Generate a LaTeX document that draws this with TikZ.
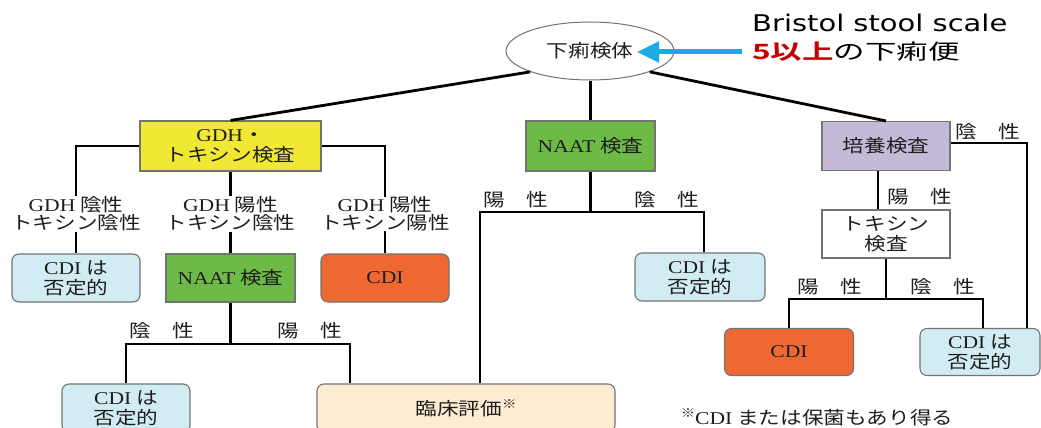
\documentclass[tikz,border=0pt]{standalone}
\usepackage{fontspec}
\setmainfont{Liberation Serif}[FakeStretch=1.2]
\newfontfamily\jpfont{Noto Sans CJK JP}[FakeStretch=1.2]
\newfontfamily\jpwide{Noto Sans CJK JP}[FakeStretch=1.5,BoldFont={Noto Sans CJK JP Bold}]
\newfontfamily\bristolfont{DejaVu Sans}[FakeStretch=1.26]
\newcommand\latn[1]{{\rmfamily #1}}
\newcommand\kome{\raisebox{0.4em}{\fontsize{12}{12}\selectfont ※}}
\usetikzlibrary{arrows.meta,shapes.geometric,calc}
\definecolor{cyellow}{RGB}{240,232,52}
\definecolor{cgreen}{RGB}{110,186,70}
\definecolor{cpurple}{RGB}{196,186,216}
\definecolor{cblue}{RGB}{210,236,243}
\definecolor{corange}{RGB}{238,105,50}
\definecolor{cpeach}{RGB}{253,235,210}
\definecolor{carrow}{RGB}{28,170,230}
\definecolor{cred}{RGB}{196,0,0}
\definecolor{ctext}{RGB}{30,30,30}
\tikzset{
  conn/.style={line width=2.8pt, black},
  box/.style={draw=black!55, line width=1.1pt, minimum width=128pt, minimum height=48pt,
    align=center, inner sep=0pt, text=ctext,
    font={\jpfont\fontsize{18}{20}\selectfont}},
  rbox/.style={box, rounded corners=7pt},
  lbl/.style={align=center, inner sep=0pt, text=ctext,
    font={\jpfont\fontsize{18}{18}\selectfont}},
  arrowblue/.style={line width=5pt, carrow, -{Triangle[length=22pt,width=20pt]}},
}
\begin{document}
\begin{tikzpicture}[x=1pt,y=-1pt]
\fill[white] (0,0) rectangle (1041,428);
\useasboundingbox (0,0) rectangle (1041,428);
\clip (0,0) rectangle (1041,428);

% top
\node[draw=black!55, line width=1pt, ellipse, minimum width=168pt, minimum height=58pt,
  inner sep=0pt, text=ctext, font={\jpfont\fontsize{18}{20}\selectfont}] (ell) at (590,51) {下痢検体};
\node[anchor=base west, inner sep=0pt, font={\bristolfont\fontsize{23}{23}\selectfont}] (bss) at (752,32) {Bristol stool scale};
\node[anchor=west, inner sep=0pt, font={\jpwide\fontsize{21}{21}\selectfont}] (five) at (752,52) {\textcolor{cred}{\bfseries 5以上}の下痢便};
\coordinate (atail) at (742,52);
\coordinate (ahead) at (637,52);
\draw[arrowblue] (atail) -- (ahead);

% second level
\node[box, fill=cyellow, minimum width=181pt, minimum height=50pt] (gdh) at (230.5,146) {\latn{GDH}・\\トキシン検査};
\node[box, fill=cgreen, minimum width=129pt, minimum height=50pt] (naat1) at (590.5,146) {\latn{NAAT} 検査};
\node[box, fill=cpurple, minimum width=128pt, minimum height=49pt] (cult) at (886,146) {培養検査};

% GDH branch labels
\node[lbl] (l1) at (76,214) {\latn{GDH} 陰性\\トキシン陰性};
\node[lbl] (l2) at (230.5,214) {\latn{GDH} 陽性\\トキシン陰性};
\node[lbl] (l3) at (385,214) {\latn{GDH} 陽性\\トキシン陽性};

% third level
\node[rbox, fill=cblue] (n1) at (76,278) {\latn{CDI} は\\否定的};
\node[box, fill=cgreen, minimum width=129pt] (naat2) at (230.5,278) {\latn{NAAT} 検査};
\node[rbox, fill=corange] (c1) at (385,278) {\latn{CDI}};
\node[rbox, fill=cblue, minimum width=130pt] (n4) at (700,277) {\latn{CDI} は\\否定的};
\node[box, fill=white] (tox) at (886,234) {トキシン\\検査};
\node[rbox, fill=corange, minimum width=129pt, minimum height=47pt] (c2) at (789,352) {\latn{CDI}};
\node[rbox, fill=cblue, minimum width=120pt, minimum height=47pt] (n5) at (980,352) {\latn{CDI} は\\否定的};
\node[rbox, fill=cblue] (n3) at (126,408) {\latn{CDI} は\\否定的};
\node[rbox, fill=cpeach, minimum width=298pt] (clin) at (466,408) {臨床評価\kome};
\node[lbl] (fn) at (817,417) {\kome\latn{CDI} または保菌もあり得る};

% branch labels
\node[lbl] (b1) at (162,331) {陰　性};
\node[lbl] (b2) at (310,331) {陽　性};
\node[lbl] (b3) at (516,200) {陽　性};
\node[lbl] (b4) at (667,200) {陰　性};
\node[lbl] (b5) at (988,132) {陰　性};
\node[lbl] (b6) at (920,197) {陽　性};
\node[lbl] (b7) at (830,287) {陽　性};
\node[lbl] (b8) at (943,287) {陰　性};

% connectors
\draw[conn] (ell.south west) -- (gdh.north);
\draw[conn] (naat1.north |- ell.south) -- (naat1.north);
\draw[conn] (ell.south east) -- (cult.north);

\draw[conn] (gdh.west) -| (l1.north);
\draw[conn] (gdh.south) -- (l2.north);
\draw[conn] (gdh.east) -| (l3.north);
\draw[conn] (l1.south) -- (n1.north);
\draw[conn] (l2.south) -- (naat2.north);
\draw[conn] (l3.south) -- (c1.north);

\coordinate (j2) at (232,344);
\coordinate (j2b) at (350,344);
\draw[conn] (naat2.south) -- (naat2.south |- j2);
\draw[conn] (n3.north) -- (n3.north |- j2) -- (j2b) -- (j2b |- clin.north);

\coordinate (j1a) at (480,212);
\coordinate (j1b) at (704,212);
\draw[conn] (naat1.south) -- (naat1.south |- j1a);
\draw[conn] (j1a |- clin.north) -- (j1a) -- (j1b) -- (j1b |- n4.north);

\coordinate (culR) at (1027,143);
\draw[conn] (cult.east |- culR) -- (culR) -- (culR |- n5.north);
\draw[conn] ([xshift=-8pt]cult.south) -- ([xshift=-8pt]tox.north);

\coordinate (j3) at (886,299);
\coordinate (j3r) at (983,299);
\draw[conn] (tox.south) -- (tox.south |- j3);
\draw[conn] (c2.north) -- (c2.north |- j3) -- (j3r) -- (j3r |- n5.north);
\end{tikzpicture}
\end{document}
